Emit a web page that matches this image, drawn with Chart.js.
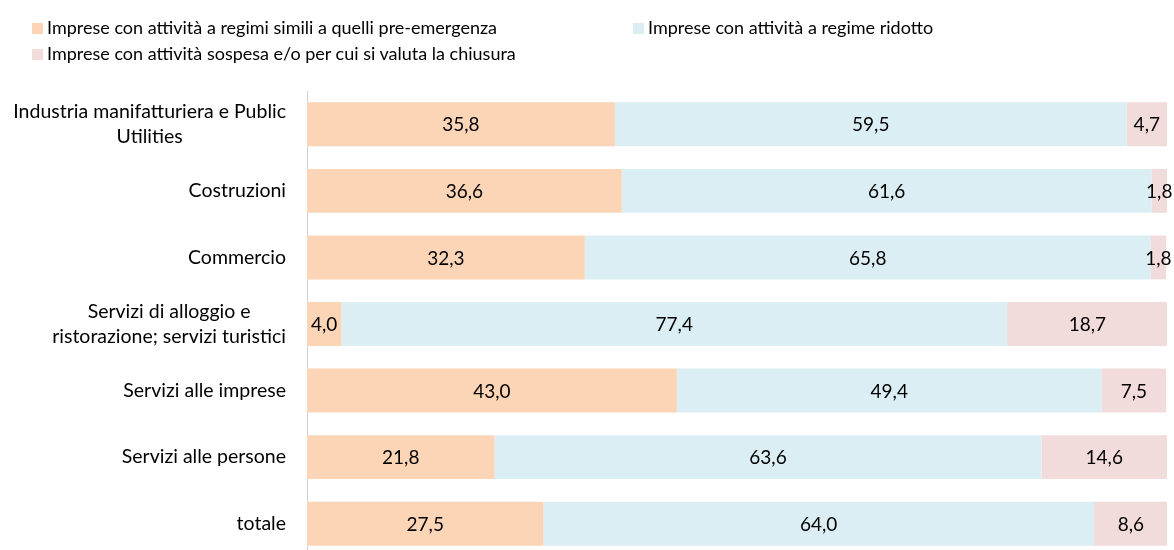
<!DOCTYPE html>
<html>
<head>
<meta charset="utf-8">
<script src="https://cdn.jsdelivr.net/npm/chart.js@4"></script>
<style>
  html, body { margin: 0; padding: 0; background: #fff; overflow: hidden; }
  #wrap { position: absolute; left: 0; top: 0; width: 1174px; height: 558px; }
  .leg { position: absolute; font-family: Lato, sans-serif; font-size: 18px; color: #000; white-space: nowrap; line-height: 1; }
  .leg span { display: inline-block; width: 11px; height: 11px; margin-right: 4px; vertical-align: 0px; }
</style>
</head>
<body>
<div id="wrap"><canvas id="barChart"></canvas></div>
<div id="legend"></div>
<script>
var categories = [
    ['Industria manifatturiera e Public', 'Utilities'],
    'Costruzioni',
    'Commercio',
    ['Servizi di alloggio e', 'ristorazione; servizi turistici'],
    'Servizi alle imprese',
    'Servizi alle persone',
    'totale'
];
var seriesNames = [
    'Imprese con attività a regimi simili a quelli pre-emergenza',
    'Imprese con attività a regime ridotto',
    'Imprese con attività sospesa e/o per cui si valuta la chiusura'
];
var preEmergenza = [35.8, 36.6, 32.3, 4.0, 43.0, 21.8, 27.5];
var ridotto = [59.5, 61.6, 65.8, 77.4, 49.4, 63.6, 64.0];
var sospesa = [4.7, 1.8, 1.8, 18.7, 7.5, 14.6, 8.6];

var colors = ['#FBD5B5', '#DAEEF3', '#F2DCDB'];
var fontFamily = 'Lato, sans-serif';

// legend laid out like the original (two columns, third item wraps)
var legendPos = [[32, 18], [633, 18], [32, 44]];
var legendBox = document.getElementById('legend');
seriesNames.forEach(function(name, i) {
    var d = document.createElement('div');
    d.className = 'leg';
    d.style.left = legendPos[i][0] + 'px';
    d.style.top = legendPos[i][1] + 'px';
    d.innerHTML = '<span style="background:' + colors[i] + '"></span>' + name;
    legendBox.appendChild(d);
});

function fmt(v) {
    return v.toFixed(1).replace('.', ',');
}

var valueLabels = {
    id: 'valueLabels',
    afterDatasetsDraw: function(chart) {
        var ctx = chart.ctx;
        ctx.save();
        ctx.font = '19px ' + fontFamily;
        ctx.fillStyle = '#000';
        ctx.textAlign = 'center';
        ctx.textBaseline = 'middle';
        chart.data.datasets.forEach(function(ds, i) {
            chart.getDatasetMeta(i).data.forEach(function(bar, j) {
                ctx.fillText(fmt(ds.data[j]), (bar.x + bar.base) / 2, bar.y + 1);
            });
        });
        ctx.restore();
    }
};

// category labels: right aligned block, wrapped lines centred inside it
var categoryLabels = {
    id: 'categoryLabels',
    afterDraw: function(chart) {
        var ctx = chart.ctx;
        var yScale = chart.scales.y;
        var right = 286;
        var lineH = 25;
        ctx.save();
        ctx.font = '19.5px ' + fontFamily;
        ctx.fillStyle = '#000';
        ctx.textAlign = 'center';
        ctx.textBaseline = 'middle';
        categories.forEach(function(label, i) {
            var lines = Array.isArray(label) ? label : [label];
            var w = 0;
            lines.forEach(function(l) { w = Math.max(w, ctx.measureText(l).width); });
            var cx = right - w / 2;
            var y0 = yScale.getPixelForValue(i) - (lines.length - 1) * lineH / 2;
            lines.forEach(function(l, k) {
                ctx.fillText(l, cx, y0 + k * lineH);
            });
        });
        ctx.restore();
    }
};

var ctx = document.getElementById('barChart').getContext('2d');
var barChart = new Chart(ctx, {
    type: 'bar',
    data: {
        labels: categories,
        datasets: [
            { label: seriesNames[0], data: preEmergenza, backgroundColor: colors[0] },
            { label: seriesNames[1], data: ridotto, backgroundColor: colors[1] },
            { label: seriesNames[2], data: sospesa, backgroundColor: colors[2] }
        ]
    },
    options: {
        indexAxis: 'y',
        responsive: true,
        maintainAspectRatio: false,
        animation: false,
        layout: {
            padding: { top: 91, right: 7, bottom: 1, left: 0 }
        },
        datasets: {
            bar: {
                categoryPercentage: 1,
                barPercentage: 0.66,
                borderWidth: 0
            }
        },
        plugins: {
            legend: { display: false },
            tooltip: { enabled: false }
        },
        scales: {
            x: {
                stacked: true,
                display: false,
                min: 0,
                max: 100
            },
            y: {
                stacked: true,
                ticks: { display: false },
                grid: { display: false },
                border: { display: true, color: '#d0d0d0', width: 1 },
                afterFit: function(scale) {
                    scale.width = 307;
                }
            }
        }
    },
    plugins: [valueLabels, categoryLabels]
});
</script>
</body>
</html>
